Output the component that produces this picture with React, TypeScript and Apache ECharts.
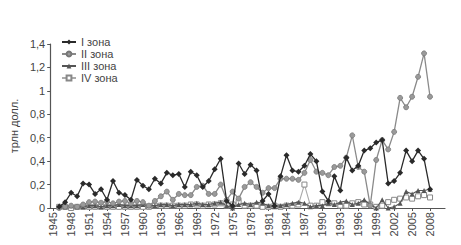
import React, { useEffect, useRef } from "react";
import * as echarts from "echarts";

const years: string[] = [];
for (let y = 1945; y <= 2010; y++) years.push(String(y));

// 1945 .. 2008
const zone1 = [null, 0.01, 0.05, 0.13, 0.10, 0.21, 0.20, 0.12, 0.16, 0.07, 0.23, 0.13, 0.11, 0.07, 0.24, 0.19, 0.16, 0.25, 0.21, 0.30, 0.28, 0.29, 0.18, 0.31, 0.28, 0.18, 0.23, 0.33, 0.42, 0.06, 0.02, 0.38, 0.29, 0.37, 0.32, 0.06, 0.12, 0.02, 0.27, 0.45, 0.32, 0.31, 0.36, 0.46, 0.40, 0.14, 0.06, 0.27, 0.15, 0.43, 0.32, 0.36, 0.49, 0.51, 0.56, 0.58, 0.21, 0.23, 0.30, 0.49, 0.40, 0.49, 0.42, 0.16];
const zone2 = [null, 0.0, 0.01, 0.02, 0.01, 0.03, 0.05, 0.055, 0.045, 0.055, 0.04, 0.055, 0.06, 0.04, 0.06, 0.05, 0.02, 0.06, 0.10, 0.14, 0.07, 0.12, 0.11, 0.11, 0.18, 0.19, 0.12, 0.12, 0.20, 0.07, 0.14, 0.08, 0.18, 0.22, 0.18, 0.13, 0.17, 0.17, 0.25, 0.25, 0.25, 0.24, 0.30, 0.41, 0.31, 0.30, 0.28, 0.35, 0.36, 0.43, 0.62, 0.35, 0.31, 0.02, 0.41, 0.58, 0.50, 0.65, 0.94, 0.86, 0.95, 1.12, 1.32, 0.95];
const zone3 = [null, 0.02, 0.01, 0.02, 0.01, 0.01, 0.02, 0.02, 0.01, 0.02, 0.02, 0.03, 0.02, 0.02, 0.02, 0.03, 0.02, 0.02, 0.03, 0.03, 0.02, 0.03, 0.03, 0.03, 0.04, 0.03, 0.03, 0.04, 0.05, 0.02, 0.0, 0.03, 0.04, 0.03, 0.05, 0.04, 0.02, 0.01, 0.02, 0.03, 0.04, 0.05, 0.04, 0.01, 0.02, 0.02, 0.04, 0.03, 0.05, 0.06, 0.03, 0.04, 0.07, 0.03, 0.0, 0.07, 0.0, 0.01, 0.04, 0.14, 0.12, 0.15, 0.15, 0.16];
const zone4 = [null, 0.01, 0.01, 0.0, 0.01, 0.01, 0.01, 0.01, 0.01, 0.01, 0.01, 0.01, 0.01, 0.01, 0.01, 0.01, 0.01, 0.02, 0.02, 0.02, 0.02, 0.02, 0.02, 0.03, 0.03, 0.02, 0.03, 0.03, 0.04, 0.02, 0.03, 0.05, 0.02, 0.02, 0.02, 0.01, 0.01, 0.02, 0.01, 0.02, 0.02, 0.03, 0.20, 0.02, 0.02, 0.05, 0.04, 0.04, 0.02, 0.02, 0.04, 0.05, 0.03, 0.03, 0.01, 0.02, 0.05, 0.07, 0.08, 0.09, 0.08, 0.10, 0.11, 0.09];

const names = ["I зона", "II зона", "III зона", "IV зона"];
const yTitle = "трлн долл.";

export default function App() {
  const ref = useRef<HTMLDivElement>(null);
  useEffect(() => {
    if (!ref.current) return;
    const chart = echarts.init(ref.current, undefined, { renderer: "svg" });
    const font = "Liberation Sans";
    const axisColor = "#555";
    chart.setOption({
      animation: false,
      textStyle: { fontFamily: font },
      grid: { left: 43, right: 16, top: 44, bottom: 37, containLabel: false },
      legend: {
        orient: "vertical",
        left: 61,
        top: 36,
        padding: 0,
        itemWidth: 14,
        itemHeight: 6,
        itemGap: 0,
        textStyle: { fontSize: 11, lineHeight: 12, color: "#444", fontFamily: font },
        data: names,
      },
      xAxis: {
        type: "category",
        data: years,
        boundaryGap: true,
        axisLine: { lineStyle: { color: axisColor, width: 1.2 } },
        axisTick: { show: true, interval: 2, alignWithLabel: true, length: 3, lineStyle: { color: axisColor } },
        axisLabel: { interval: 2, rotate: 90, fontSize: 11, color: "#444", margin: 4 },
      },
      yAxis: {
        type: "value",
        min: 0,
        max: 1.4,
        interval: 0.2,
        name: yTitle,
        nameLocation: "middle",
        nameGap: 30,
        nameTextStyle: { fontSize: 11, color: "#444" },
        splitLine: { show: false },
        axisLine: { show: true, lineStyle: { color: axisColor, width: 1.2 } },
        axisTick: { show: true, length: 3, lineStyle: { color: axisColor } },
        axisLabel: {
          fontSize: 11,
          color: "#444",
          margin: 5,
          formatter: (v: number) => parseFloat(v.toFixed(1)).toString().replace(".", ","),
        },
      },
      series: [
        {
          name: names[0],
          type: "line",
          data: zone1,
          symbol: "diamond",
          symbolSize: 6,
          showAllSymbol: true,
          lineStyle: { color: "#2a2a2a", width: 1.3 },
          itemStyle: { color: "#2a2a2a" },
          z: 5,
        },
        {
          name: names[1],
          type: "line",
          data: zone2,
          symbol: "circle",
          symbolSize: 5,
          showAllSymbol: true,
          lineStyle: { color: "#8a8a8a", width: 1.3 },
          itemStyle: { color: "#9a9a9a", borderColor: "#777", borderWidth: 0.8 },
          z: 4,
        },
        {
          name: names[2],
          type: "line",
          data: zone3,
          symbol: "triangle",
          symbolSize: 5,
          showAllSymbol: true,
          lineStyle: { color: "#555", width: 1.1 },
          itemStyle: { color: "#555" },
          z: 3,
        },
        {
          name: names[3],
          type: "line",
          data: zone4,
          symbol: "rect",
          symbolSize: 5,
          showAllSymbol: true,
          lineStyle: { color: "#aaa", width: 1.1 },
          itemStyle: { color: "#fff", borderColor: "#888", borderWidth: 1 },
          z: 2,
        },
      ],
    });
    return () => chart.dispose();
  }, []);
  return (
    <div
      ref={ref}
      style={{ position: "fixed", left: 0, top: 0, width: 461, height: 245, background: "#fff" }}
    />
  );
}
